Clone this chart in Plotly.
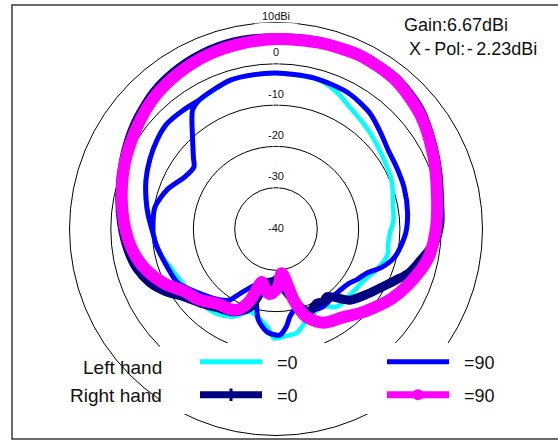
import plotly.graph_objects as go

W, H = 558, 441

# Radiation pattern cuts: angle (deg, clockwise from top) and gain (dBi)
# Left hand, phi = 0
lh0_theta = [0, 10, 17, 25, 31, 38, 45, 57, 67, 79, 86, 92, 98, 103, 112, 120, 126, 135, 142, 150,
             156, 161, 169, 176, 181, 185, 191, 197, 206, 215, 228, 242, 250, 257, 263, 270,
             276, 283, 291, 299, 307, 314, 322, 329, 343, 352, 360]
lh0_gain = [-2.3, -2.4, -2.5, -4.0, -5.5, -6.6, -7.5, -8.9, -9.6, -11.1, -11.5, -12.4, -12.6, -12.3,
            -13.7, -15.3, -15.8, -16.0, -16.1, -18.4, -17.5, -16.8, -14.3, -13.9, -13.5, -16.2,
            -18.0, -19.0, -16.4, -15.0, -14.2, -13.7, -12.8, -11.5, -10.6, -10.2,
            -8.9, -7.7, -6.3, -5.1, -4.0, -3.3, -3.5, -3.7, -2.3, -2.25, -2.3]

# Left hand, phi = 90 (the recorded sweep runs past a full turn on the left side)
lh90_theta = [268, 271, 280, 290, 300, 307, 311, 317, 325, 329, 343, 352, 0, 14, 28, 39, 47, 55,
              63, 72, 83, 92, 103, 110, 116, 122, 127, 137, 149, 155, 161, 167, 171, 174, 178,
              185, 191, 194, 200, 205, 209, 213, 218, 230, 241, 251, 262, 268, 276, 283, 291,
              299, 307, 314, 322, 329]
lh90_gain = [-10.2, -10.2, -10.2, -12.0, -14.6, -15.1, -13.5, -10.4, -4.8, -3.7, -2.3, -2.25,
             -2.23, -2.3, -2.7, -3.9, -5.5, -6.8, -7.2, -7.4, -7.9, -8.6, -10.4, -12.8, -15.6,
             -16.9, -18.0, -18.6, -18.0, -18.4, -19.5, -19.9, -18.5, -16.2, -14.3, -15.0,
             -17.6, -20.6, -25.5, -24.0, -22.2, -19.5, -18.2, -15.8, -12.9, -12.1, -10.8,
             -10.2, -8.9, -7.7, -6.3, -5.1, -4.0, -3.3, -3.5, -3.7]

# Right hand, phi = 0
rh0_theta = [0, 12, 25, 38, 50, 62, 72, 80, 88, 95, 101, 108, 113, 118, 126, 134, 143, 147, 151,
             158, 162, 168, 176, 179, 184, 190, 198, 207, 217, 225, 234, 240, 247, 254, 262, 272,
             283, 295, 306, 318, 329, 340, 350, 360]
rh0_gain = [6.3, 6.6, 6.9, 6.7, 5.4, 3.0, 1.3, 0.2, -0.3, -1.5, -3.8, -6.0, -8.4, -10.5, -13.0,
            -15.2, -19.5, -19.0, -19.5, -18.4, -19.8, -23.3, -26.8, -27.7, -27.2, -26.7, -20.2,
            -17.5, -16.2, -14.5, -12.2, -9.5, -6.8, -5.0, -3.8, -2.6, -1.2, 0.6, 2.5, 4.4, 5.5,
            6.2, 6.4, 6.3]

# Right hand, phi = 90
rh90_theta = [0, 13, 26, 39, 52, 65, 78, 90, 101, 110, 121, 133, 143, 153, 161, 166, 172.5, 178,
              185, 190, 195, 200, 205, 210, 218, 227, 236, 244, 253, 262, 272, 282, 294, 306,
              317, 328, 339, 350, 360]
rh90_gain = [6.0, 6.3, 6.67, 6.2, 4.5, 2.0, -0.15, -1.3, -2.5, -4.6, -7.3, -10.7, -13.2, -14.5,
             -17.5, -22.3, -29.2, -26.0, -24.2, -25.0, -26.7, -21.5, -18.5, -17.6, -17.0, -14.8,
             -13.1, -9.9, -6.9, -4.8, -3.2, -1.8, 0.0, 1.7, 3.4, 4.5, 5.3, 5.7, 6.0]

# Radial scale labels
ring_vals = [-40, -30, -20, -10, 0, 10]
ring_text = ["-40", "-30", "-20", "-10", "0", "10dBi"]

FONT = "Liberation Sans, Arial, sans-serif"
PAD = "\u00a0\u00a0"

# name, angles, gains, colour, curve width, legend id, legend width, legend marker
series = [
    ("=0", lh0_theta, lh0_gain, "#00FFFF", 4.5, "legend", 5, None),
    ("=90", lh90_theta, lh90_gain, "#0000FF", 5, "legend", 5, None),
    ("=0", rh0_theta, rh0_gain, "#000080", 9, "legend2", 7,
     dict(symbol="line-ns", size=9, line=dict(color="#000080", width=3))),
    ("=90", rh90_theta, rh90_gain, "#FF00FF", 12, "legend2", 7,
     dict(symbol="circle", size=11, color="#FF00FF")),
]

fig = go.Figure()

for name, th, g, col, lw, leg, llw, mk in series:
    fig.add_trace(go.Scatterpolar(
        r=g, theta=th, mode="lines", showlegend=False,
        line=dict(color=col, width=lw, shape="spline", smoothing=0.8),
        hoverinfo="skip",
    ))

# legend entries
for name, th, g, col, lw, leg, llw, mk in series:
    fig.add_trace(go.Scatterpolar(
        r=[None], theta=[None], mode="lines+markers" if mk else "lines",
        name=PAD + name, legend=leg,
        line=dict(color=col, width=llw), marker=mk if mk else None,
        hoverinfo="skip",
    ))

# gap in the outer ring behind the top label
fig.add_trace(go.Scatterpolar(
    r=[ring_vals[-1]] * 7, theta=[-6, -4, -2, 0, 2, 4, 6], mode="lines",
    line=dict(color="white", width=6), showlegend=False, hoverinfo="skip",
))

fig.add_trace(go.Scatterpolar(
    r=ring_vals, theta=[0] * len(ring_vals), mode="markers+text",
    text=ring_text,
    textposition=["middle center"] + ["top center"] * 5,
    marker=dict(size=[0, 6, 6, 6, 6, 0], color="rgba(0,0,0,0)"),
    textfont=dict(family=FONT, size=11, color="#111"),
    showlegend=False, hoverinfo="skip",
))

cx, cy, R = 276, 229, 206.5
legend_style = dict(orientation="h", xanchor="left", yanchor="middle",
                    itemwidth=62, entrywidth=110, bgcolor="rgba(0,0,0,0)",
                    font=dict(family=FONT, size=18, color="#111"))
fig.update_layout(
    width=W, height=H,
    margin=dict(l=0, r=0, t=0, b=0, autoexpand=False),
    paper_bgcolor="white",
    font=dict(family=FONT, color="#111"),
    polar=dict(
        domain=dict(x=[(cx - R) / W, (cx + R) / W], y=[(H - cy - R) / H, (H - cy + R) / H]),
        bgcolor="white",
        radialaxis=dict(range=[-40, 10], tickvals=[-30, -20, -10, 0], showticklabels=False,
                        ticks="", showline=False, gridcolor="black", gridwidth=1,
                        layer="below traces"),
        angularaxis=dict(rotation=90, direction="clockwise", showgrid=False,
                         showticklabels=False, ticks="", showline=True,
                         linecolor="black", linewidth=1, layer="below traces"),
    ),
    legend=dict(x=195 / W, y=1 - 362 / H, **legend_style),
    legend2=dict(x=195 / W, y=1 - 395 / H, **legend_style),
    shapes=[
        dict(type="rect", xref="paper", yref="paper", x0=160 / W, x1=552 / W,
             y0=1 - 414 / H, y1=1 - 343 / H, fillcolor="white", line=dict(width=0),
             layer="above"),
        dict(type="rect", xref="paper", yref="paper", x0=12 / W, x1=1.2,
             y0=1 - 439 / H, y1=1 - 5 / H, line=dict(color="#3a3a3a", width=1.5),
             layer="above"),
    ],
    annotations=[
        dict(text="Gain:6.67dBi", x=402 / W, y=1 - 25 / H, xref="paper", yref="paper",
             xanchor="left", yanchor="middle", showarrow=False, font=dict(size=18)),
        dict(text="X\u2009-\u2009Pol:\u200a-\u20092.23dBi", x=407 / W, y=1 - 49 / H,
             xref="paper", yref="paper", xanchor="left", yanchor="middle",
             showarrow=False, font=dict(size=18)),
        dict(text="Left hand", x=164 / W, y=1 - 367 / H, xref="paper", yref="paper",
             xanchor="right", yanchor="middle", showarrow=False, font=dict(size=19)),
        dict(text="Right hand", x=164 / W, y=1 - 395 / H, xref="paper", yref="paper",
             xanchor="right", yanchor="middle", showarrow=False, font=dict(size=19)),
    ],
)

fig.write_html("out.html")
